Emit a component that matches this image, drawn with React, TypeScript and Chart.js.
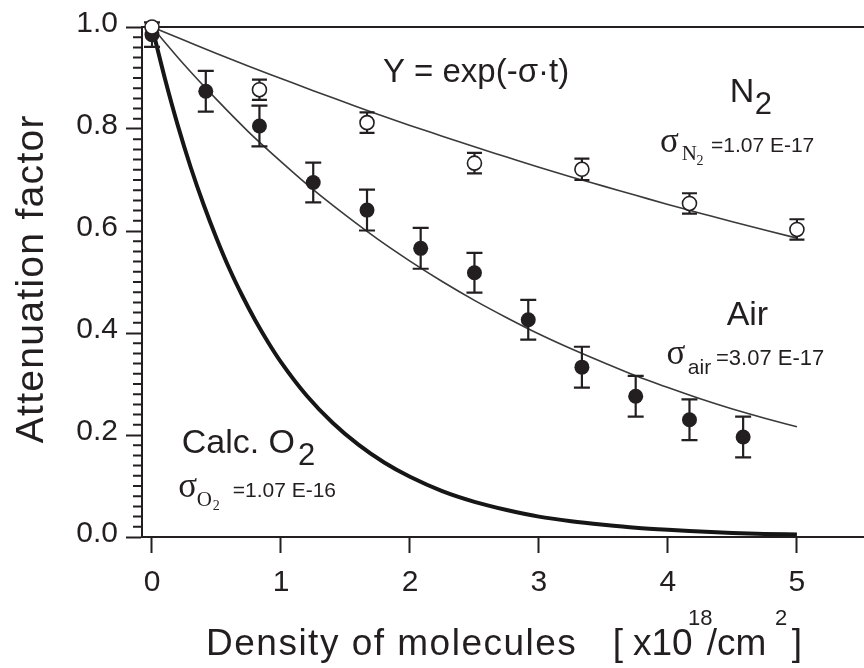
import React, { useEffect, useRef } from 'react';
import { Chart, registerables } from 'chart.js';

Chart.register(...registerables);

const INK = '#231f20';
const SANS = '"Liberation Sans", Arial, Helvetica, sans-serif';
const SERIF = '"Liberation Serif", "Times New Roman", Times, serif';

// ---- axis ticks ----
const xTicks = [0, 1, 2, 3, 4, 5];
const xTickLabels = ['0', '1', '2', '3', '4', '5'];
const yTicks = [0, 0.2, 0.4, 0.6, 0.8, 1.0];
const yTickLabels = ['0.0', '0.2', '0.4', '0.6', '0.8', '1.0'];
const yMinorTicks = [
  0.02, 0.04, 0.06, 0.08, 0.1, 0.12, 0.14, 0.16, 0.18,
  0.22, 0.24, 0.26, 0.28, 0.3, 0.32, 0.34, 0.36, 0.38,
  0.42, 0.44, 0.46, 0.48, 0.5, 0.52, 0.54, 0.56, 0.58,
  0.62, 0.64, 0.66, 0.68, 0.7, 0.72, 0.74, 0.76, 0.78,
  0.82, 0.84, 0.86, 0.88, 0.9, 0.92, 0.94, 0.96, 0.98,
];

// ---- measured points ----
const airX = [0, 0.417, 0.833, 1.25, 1.667, 2.083, 2.5, 2.917, 3.333, 3.75, 4.167, 4.583];
const airY = [0.985, 0.874, 0.806, 0.695, 0.641, 0.566, 0.518, 0.426, 0.333, 0.276, 0.23, 0.196];
const airErr = [0.024, 0.04, 0.04, 0.039, 0.04, 0.04, 0.039, 0.039, 0.04, 0.04, 0.04, 0.04];

const n2X = [0, 0.833, 1.667, 2.5, 3.333, 4.167, 5.0];
const n2Y = [1.0, 0.877, 0.8125, 0.733, 0.721, 0.654, 0.603];
const n2Err = [0, 0.02, 0.02, 0.02, 0.021, 0.02, 0.02];

// ---- fitted curves ----
const fitX = [0, 0.25, 0.5, 0.75, 1.0, 1.25, 1.5, 1.75, 2.0, 2.25, 2.5, 2.75, 3.0, 3.25, 3.5, 3.75, 4.0, 4.25, 4.5, 4.75, 5.0];
const n2Fit = [1.0, 0.974, 0.948, 0.923, 0.899, 0.875, 0.852, 0.829, 0.807, 0.786, 0.765, 0.745, 0.725, 0.706, 0.688, 0.67, 0.652, 0.635, 0.618, 0.602, 0.586];
const airFit = [1.0, 0.926, 0.858, 0.794, 0.736, 0.681, 0.631, 0.584, 0.541, 0.501, 0.464, 0.43, 0.398, 0.369, 0.342, 0.316, 0.293, 0.271, 0.251, 0.233, 0.216];

const o2X = [0, 0.1, 0.2, 0.3, 0.4, 0.5, 0.6, 0.7, 0.8, 0.9, 1.0, 1.2, 1.4, 1.6, 1.8, 2.0, 2.25, 2.5, 2.75, 3.0, 3.25, 3.5, 3.75, 4.0, 4.25, 4.5, 4.75, 5.0];
const o2Calc = [1.0, 0.899, 0.807, 0.725, 0.652, 0.586, 0.526, 0.473, 0.425, 0.382, 0.343, 0.277, 0.224, 0.181, 0.146, 0.118, 0.09, 0.069, 0.053, 0.04, 0.031, 0.024, 0.018, 0.014, 0.011, 0.008, 0.006, 0.005];

type Seg = { t: string; font: string; dx: number; dy: number };
type Note = { x: number; y: number; segs: Seg[] };

const notes: Note[] = [
  { x: 1.79, y: 0.892, segs: [{ t: 'Y = exp(-σ·t)', font: `33px ${SANS}`, dx: 0, dy: 0 }] },
  {
    x: 4.48, y: 0.853, segs: [
      { t: 'N', font: `34px ${SANS}`, dx: 0, dy: 0 },
      { t: '2', font: `31px ${SANS}`, dx: 25, dy: 11.6 },
    ],
  },
  {
    x: 3.938, y: 0.755, segs: [
      { t: 'σ', font: `35px ${SERIF}`, dx: 0, dy: 0 },
      { t: 'N', font: `21px ${SERIF}`, dx: 21.7, dy: 8.3 },
      { t: '2', font: `14px ${SERIF}`, dx: 36.5, dy: 13.3 },
      { t: '=1.07 E-17', font: `21px ${SANS}`, dx: 51, dy: 0 },
    ],
  },
  { x: 4.455, y: 0.415, segs: [{ t: 'Air', font: `34px ${SANS}`, dx: 0, dy: 0 }] },
  {
    x: 3.989, y: 0.34, segs: [
      { t: 'σ', font: `35px ${SERIF}`, dx: 0, dy: 0 },
      { t: 'air', font: `21px ${SANS}`, dx: 21.3, dy: 10 },
      { t: '=3.07 E-17', font: `22px ${SANS}`, dx: 49.5, dy: 1.5 },
    ],
  },
  {
    x: 0.23, y: 0.165, segs: [
      { t: 'Calc. O', font: `34px ${SANS}`, dx: 0, dy: 0 },
      { t: '2', font: `31px ${SANS}`, dx: 116.3, dy: 12.3 },
    ],
  },
  {
    x: 0.204, y: 0.0784, segs: [
      { t: 'σ', font: `35px ${SERIF}`, dx: 0, dy: 0 },
      { t: 'O', font: `21px ${SERIF}`, dx: 18.4, dy: 9.3 },
      { t: '2', font: `14px ${SERIF}`, dx: 34.5, dy: 13.3 },
      { t: '=1.07 E-16', font: `21px ${SANS}`, dx: 54.4, dy: 0 },
    ],
  },
];

const yTitle = 'Attenuation factor';
const xTitleMain = 'Density of molecules';

function drawSegs(ctx: CanvasRenderingContext2D, x: number, y: number, segs: Seg[]) {
  for (const s of segs) {
    ctx.font = s.font;
    ctx.fillText(s.t, x + s.dx, y + s.dy);
  }
}

const errorBarPlugin = {
  id: 'errorBars',
  beforeDatasetDraw(chart: any, args: any) {
    const ds = chart.data.datasets[args.index];
    if (!ds.errorBars) return;
    const ctx: CanvasRenderingContext2D = chart.ctx;
    const ys = chart.scales.y;
    ctx.save();
    ctx.strokeStyle = INK;
    ctx.lineWidth = 2.2;
    args.meta.data.forEach((pt: any, i: number) => {
      const e = ds.errorBars[i];
      if (!e) return;
      const v = ds.data[i].y;
      const top = ys.getPixelForValue(v + e);
      const bot = ys.getPixelForValue(v - e);
      const x = pt.x;
      const cw = ds.capHalf;
      ctx.beginPath();
      ctx.moveTo(x, top);
      ctx.lineTo(x, bot);
      ctx.moveTo(x - cw, top);
      ctx.lineTo(x + cw, top);
      ctx.moveTo(x - cw, bot);
      ctx.lineTo(x + cw, bot);
      ctx.stroke();
    });
    ctx.restore();
  },
};

const framePlugin = {
  id: 'frameAndText',
  beforeDatasetsDraw(chart: any) {
    const ctx: CanvasRenderingContext2D = chart.ctx;
    const a = chart.chartArea;
    const ys = chart.scales.y;
    ctx.save();
    ctx.strokeStyle = INK;
    ctx.lineWidth = 2;
    ctx.beginPath();
    ctx.moveTo(a.left, a.top);
    ctx.lineTo(chart.width, a.top);
    ctx.stroke();
    ctx.beginPath();
    yMinorTicks.forEach((v) => {
      const y = ys.getPixelForValue(v);
      ctx.moveTo(a.left - 9, y);
      ctx.lineTo(a.left, y);
    });
    ctx.stroke();
    ctx.restore();
  },
  afterDraw(chart: any) {
    const ctx: CanvasRenderingContext2D = chart.ctx;
    const xs = chart.scales.x;
    const ys = chart.scales.y;
    ctx.save();
    ctx.fillStyle = INK;
    ctx.textAlign = 'left';
    ctx.textBaseline = 'alphabetic';
    for (const n of notes) {
      drawSegs(ctx, xs.getPixelForValue(n.x), ys.getPixelForValue(n.y), n.segs);
    }
    // y title
    ctx.save();
    ctx.translate(42.5, 443.3);
    ctx.rotate(-Math.PI / 2);
    ctx.font = `39px ${SANS}`;
    (ctx as any).letterSpacing = '1.3px';
    ctx.fillText(yTitle, 0, 0);
    ctx.restore();
    // x title
    const base = 655;
    ctx.font = `37px ${SANS}`;
    (ctx as any).letterSpacing = '1.5px';
    ctx.fillText(xTitleMain, 206, base);
    (ctx as any).letterSpacing = '0px';
    ctx.fillText('[', 612.7, base);
    ctx.fillText('x10', 633, base);
    ctx.fillText('/cm', 706.7, base);
    ctx.fillText(']', 791.7, base);
    ctx.font = `22px ${SANS}`;
    ctx.fillText('18', 688, 625);
    ctx.fillText('2', 775, 625);
    ctx.restore();
  },
};

export default function App() {
  const ref = useRef<HTMLCanvasElement>(null);
  useEffect(() => {
    const tickFont = { family: SANS, size: 30 };
    const chart = new Chart(ref.current as HTMLCanvasElement, {
      type: 'scatter',
      data: {
        datasets: [
          {
            label: 'N2',
            data: n2X.map((x, i) => ({ x, y: n2Y[i] })),
            errorBars: n2Err,
            capHalf: 7.5,
            showLine: false,
            pointRadius: 7,
            pointBackgroundColor: '#ffffff',
            pointBorderColor: INK,
            pointBorderWidth: 1.6,
            clip: false,
          } as any,
          {
            label: 'Air',
            data: airX.map((x, i) => ({ x, y: airY[i] })),
            errorBars: airErr,
            capHalf: 8,
            showLine: false,
            pointRadius: 7.5,
            pointBackgroundColor: INK,
            pointBorderColor: INK,
            pointBorderWidth: 0,
            clip: false,
          } as any,
          {
            label: 'N2 fit',
            data: fitX.map((x, i) => ({ x, y: n2Fit[i] })),
            showLine: true,
            borderColor: '#3a3a3a',
            borderWidth: 1.6,
            pointRadius: 0,
            cubicInterpolationMode: 'monotone',
            clip: false,
          } as any,
          {
            label: 'Air fit',
            data: fitX.map((x, i) => ({ x, y: airFit[i] })),
            showLine: true,
            borderColor: '#3a3a3a',
            borderWidth: 1.6,
            pointRadius: 0,
            cubicInterpolationMode: 'monotone',
            clip: false,
          } as any,
          {
            label: 'Calc O2',
            data: o2X.map((x, i) => ({ x, y: o2Calc[i] })),
            showLine: true,
            borderColor: '#161616',
            borderWidth: 4,
            pointRadius: 0,
            cubicInterpolationMode: 'monotone',
            clip: false,
          } as any,
        ],
      },
      options: {
        animation: false,
        responsive: false,
        devicePixelRatio: 1,
        events: [],
        layout: { autoPadding: false, padding: { top: 27, left: 0, right: 0, bottom: 0 } },
        plugins: { legend: { display: false }, tooltip: { enabled: false }, title: { display: false } },
        scales: {
          x: {
            type: 'linear',
            min: -0.0775,
            max: 5.52,
            afterBuildTicks: (s: any) => {
              s.ticks = xTicks.map((v) => ({ value: v }));
            },
            afterFit: (s: any) => {
              s.height = 131;
              s.paddingLeft = 0;
              s.paddingRight = 0;
            },
            ticks: {
              font: tickFont,
              color: INK,
              padding: 12,
              autoSkip: false,
              maxRotation: 0,
              callback: (_v: any, i: number) => xTickLabels[i],
            },
            grid: { display: true, drawOnChartArea: false, drawTicks: true, tickLength: 16, tickWidth: 2, tickColor: INK },
            border: { display: true, color: INK, width: 2 },
          },
          y: {
            type: 'linear',
            min: 0,
            max: 1,
            afterBuildTicks: (s: any) => {
              s.ticks = yTicks.map((v) => ({ value: v }));
            },
            afterFit: (s: any) => {
              s.width = 142;
              s.paddingTop = 0;
              s.paddingBottom = 0;
            },
            ticks: {
              font: tickFont,
              color: INK,
              padding: 8,
              labelOffset: -3,
              autoSkip: false,
              callback: (_v: any, i: number) => yTickLabels[i],
            },
            grid: { display: true, drawOnChartArea: false, drawTicks: true, tickLength: 16, tickWidth: 2, tickColor: INK },
            border: { display: true, color: INK, width: 2 },
          },
        },
      } as any,
      plugins: [errorBarPlugin, framePlugin],
    });
    return () => chart.destroy();
  }, []);
  return (
    <div style={{ position: 'absolute', left: 0, top: 0, width: 864, height: 668, background: '#ffffff' }}>
      <canvas ref={ref} width={864} height={668} style={{ display: 'block', width: 864, height: 668 }} />
    </div>
  );
}
